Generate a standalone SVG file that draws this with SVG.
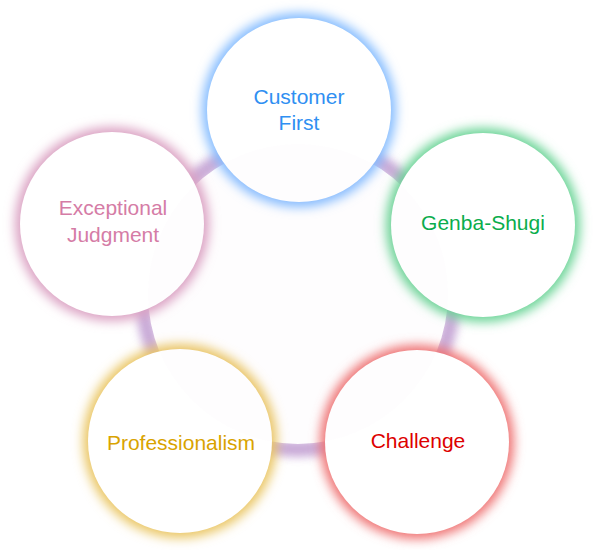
<svg xmlns="http://www.w3.org/2000/svg" width="601" height="550" viewBox="0 0 601 550">
<style>
  .lbl{font-family:"Liberation Sans",Arial,sans-serif;font-size:21px;text-anchor:middle}
  .disc{fill:#fff}
  .glow{filter:url(#nodeBlur)}
</style>
<defs>
  <filter id="nodeBlur" x="-30%" y="-30%" width="160%" height="160%">
    <feGaussianBlur stdDeviation="5.5"/>
  </filter>
  <filter id="ringBlur" x="-20%" y="-20%" width="140%" height="140%">
    <feGaussianBlur stdDeviation="4"/>
  </filter>
  <clipPath id="outsideRing">
    <path clip-rule="evenodd" d="M0 0H601V550H0Z M448 294A150 150 0 1 0 148 294A150 150 0 1 0 448 294Z"/>
  </clipPath>
</defs>
<rect width="601" height="550" fill="#fff"/>

<g id="connectors">
  <g clip-path="url(#outsideRing)">
    <circle cx="298" cy="294" r="155" fill="none" stroke="#bf9bd0" stroke-width="16" opacity="0.85" filter="url(#ringBlur)"/>
  </g>
</g>

<g id="node-customer-first">
  <circle class="glow" cx="299" cy="110" r="97" fill="#84bcff"/>
  <circle class="disc" cx="299" cy="110" r="92"/>
  <text class="lbl" x="299" y="104" fill="#2f8ff2">Customer</text>
  <text class="lbl" x="299" y="130" fill="#2f8ff2">First</text>
</g>

<g id="node-genba-shugi">
  <circle class="glow" cx="483" cy="225" r="97" fill="#6ad496"/>
  <circle class="disc" cx="483" cy="225" r="92"/>
  <text class="lbl" x="483" y="230" fill="#0aad4c">Genba-Shugi</text>
</g>

<g id="node-challenge">
  <circle class="glow" cx="417" cy="442" r="97" fill="#ef7373"/>
  <circle class="disc" cx="417" cy="442" r="92"/>
  <text class="lbl" x="418" y="448" fill="#dd0000">Challenge</text>
</g>

<g id="node-professionalism">
  <circle class="glow" cx="180" cy="441" r="97" fill="#eac664"/>
  <circle class="disc" cx="180" cy="441" r="92"/>
  <text class="lbl" x="181" y="450" fill="#d9a300">Professionalism</text>
</g>

<g id="node-exceptional-judgment">
  <circle class="glow" cx="112" cy="224" r="97" fill="#dba2c3"/>
  <circle class="disc" cx="112" cy="224" r="92"/>
  <text class="lbl" x="113" y="215" fill="#d57ca6">Exceptional</text>
  <text class="lbl" x="113" y="242" fill="#d57ca6">Judgment</text>
</g>

<circle id="ring-tint" cx="298" cy="294" r="150" fill="#8a4fa8" opacity="0.01"/>
</svg>
